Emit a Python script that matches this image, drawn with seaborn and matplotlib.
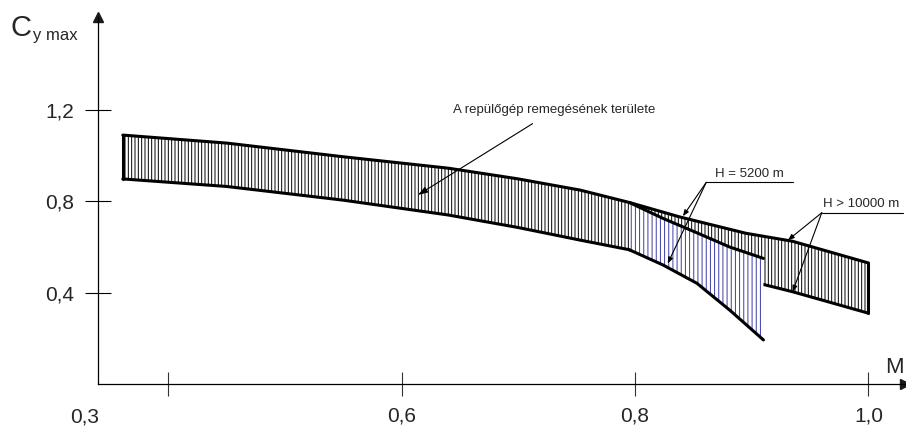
import numpy as np
import seaborn as sns
import matplotlib.pyplot as plt

# --- data ---
main_M = [0.361, 0.450, 0.550, 0.640, 0.700, 0.753, 0.795]
main_upper = [1.090, 1.055, 0.995, 0.945, 0.898, 0.849, 0.795]
main_lower = [0.898, 0.865, 0.805, 0.740, 0.685, 0.630, 0.588]

h10_M = [0.795, 0.838, 0.895, 0.935, 1.000]
h10_upper = [0.795, 0.732, 0.660, 0.625, 0.530]
h10_lower = [0.588, 0.520, 0.455, 0.404, 0.310]

h52_M = [0.795, 0.824, 0.853, 0.881, 0.910]
h52_upper = [0.795, 0.725, 0.662, 0.600, 0.550]
h52_lower = [0.588, 0.521, 0.441, 0.324, 0.193]

x_ticks = [0.4, 0.6, 0.8, 1.0]
x_labels = ['', '0,6', '0,8', '1,0']
y_ticks = [0.4, 0.8, 1.2]
y_labels = ['0,4', '0,8', '1,2']

area_label = 'A repülőgép remegésének területe'
h52_label = 'H = 5200 m'
h10_label = 'H > 10000 m'

sns.set_theme(style='white')
plt.rcParams['font.family'] = ['Liberation Sans', 'DejaVu Sans']
plt.rcParams['hatch.linewidth'] = 0.7

fig = plt.figure(figsize=(9.06, 4.32), dpi=100)
ax = fig.add_axes([0.1085, 0.1111, 0.890, 0.8495])
xmin, xmax, ymax = 0.340, 1.031, 1.607
ax.set_xlim(xmin, xmax)
ax.set_ylim(0, ymax)

# hatched regions
ax.fill_between(main_M, main_lower, main_upper, facecolor='white',
                edgecolor='black', hatch='|||||', linewidth=0, zorder=1)
ax.fill_between(h10_M, h10_lower, h10_upper, facecolor='white',
                edgecolor='black', hatch='|||||', linewidth=0, zorder=1)
sns.lineplot(x=h10_M, y=h10_lower, ax=ax, color='black', linewidth=2.2, zorder=2)
ax.fill_between(h52_M, h52_lower, h52_upper, facecolor='white',
                edgecolor='#3c3ca8', hatch='||||', linewidth=0, zorder=3)

# boundary lines
lw = 2.2
for xs, ys in [(main_M, main_upper), (main_M, main_lower), (h10_M, h10_upper),
               (h52_M, h52_upper), (h52_M, h52_lower)]:
    sns.lineplot(x=xs, y=ys, ax=ax, color='black', linewidth=lw, zorder=4,
                 solid_capstyle='round')
ax.plot([main_M[0], main_M[0]], [main_lower[0], main_upper[0]], color='black',
        lw=lw, zorder=4, solid_capstyle='round')
ax.plot([h10_M[-1], h10_M[-1]], [h10_lower[-1], h10_upper[-1]], color='black',
        lw=lw, zorder=4, solid_capstyle='round')

# axes styling
for s in ['top', 'right']:
    ax.spines[s].set_visible(False)
for s in ['left', 'bottom']:
    ax.spines[s].set_color('black')
    ax.spines[s].set_linewidth(0.9)
ax.plot(1, 0, '>k', ms=7, transform=ax.transAxes, clip_on=False)
ax.plot(0, 1, '^k', ms=7, transform=ax.transAxes, clip_on=False)

ax.set_xticks(x_ticks)
ax.set_xticklabels(x_labels)
ax.set_yticks(y_ticks)
ax.set_yticklabels(y_labels)
ax.tick_params(axis='y', left=True, direction='inout', length=19, width=0.8,
               color='black', labelsize=15, pad=8)
ax.tick_params(axis='x', bottom=True, direction='inout', length=17, width=0.8,
               color='#333333', labelsize=15, pad=8)
ax.annotate('0,3', xy=(xmin, 0), xytext=(-10, -24), textcoords='offset points',
            ha='center', va='center', fontsize=15, annotation_clip=False)

fig.text(11 / 906, 1 - 36 / 432, 'C', fontsize=21, ha='left', va='baseline')
fig.text(33 / 906, 1 - 40 / 432, 'y max', fontsize=12, ha='left', va='baseline')
fig.text(885 / 906, 1 - 373 / 432, 'M', fontsize=16, ha='left', va='baseline')

# annotations
ax.annotate(area_label, xy=(0.614, 0.828), xytext=(0.731, 1.20),
            fontsize=9.5, ha='center', va='center',
            arrowprops=dict(arrowstyle='-|>,head_length=0.6,head_width=0.2',
                            color='black', lw=0.8, shrinkA=6, shrinkB=0))

ax.text(0.898, 0.893, h52_label, fontsize=9.5, ha='center', va='bottom')
ax.plot([0.861, 0.935], [0.883, 0.883], color='black', lw=0.8)
for tx, ty in [(0.841, 0.735), (0.828, 0.528)]:
    ax.annotate('', xy=(tx, ty), xytext=(0.861, 0.883),
                arrowprops=dict(arrowstyle='-|>,head_length=0.3,head_width=0.12',
                                color='black', lw=0.8, shrinkA=0, shrinkB=0))

ax.text(0.994, 0.760, h10_label, fontsize=9.5, ha='center', va='bottom')
ax.plot([0.960, 1.030], [0.750, 0.750], color='black', lw=0.8, clip_on=False)
for tx, ty in [(0.931, 0.630), (0.935, 0.404)]:
    ax.annotate('', xy=(tx, ty), xytext=(0.960, 0.750),
                arrowprops=dict(arrowstyle='-|>,head_length=0.3,head_width=0.12',
                                color='black', lw=0.8, shrinkA=0, shrinkB=0))

fig.savefig('out.png', dpi=100)
